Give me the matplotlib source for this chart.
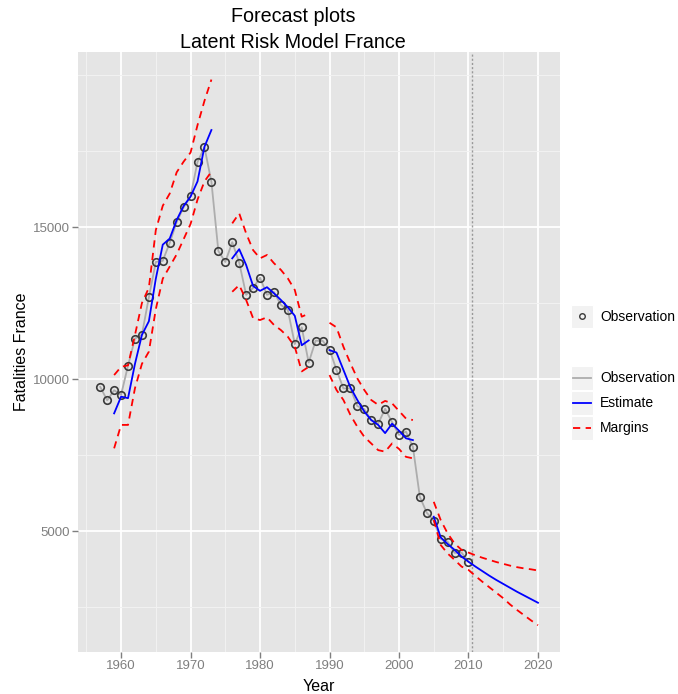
import numpy as np
import matplotlib
matplotlib.use("Agg")
import matplotlib.pyplot as plt
from matplotlib.patches import Rectangle
from matplotlib.lines import Line2D

plt.rcParams["font.family"] = ["Liberation Sans", "DejaVu Sans"]

nan = np.nan

# observed fatalities
obs_years = list(range(1957, 2011))
obs_values = [
    9740, 9300, 9630, 9480, 10440, 11330, 11460, 12690, 13850, 13890,
    14480, 15160, 15650, 16010, 17140, 17620, 16490, 14210, 13850, 14500,
    13830, 12770, 13000, 13330, 12770, 12860, 12440, 12270, 11150, 11700,
    10540, 11260, 11260, 10970, 10300, 9690, 9690, 9110, 9010, 8650,
    8530, 9020, 8580, 8160, 8270, 7770, 6120, 5600, 5340, 4740,
    4650, 4280, 4290, 3980,
]

# model estimate and margins, 1959..2020 (gaps where the model is not shown)
est_years = list(range(1959, 2021))
estimate = [
    8870, 9420, 9370, 10500, 11450, 11900, 13300, 14420, 14620, 15230,
    15690, 16000, 16500, 17640, 18190, nan, nan, 13970, 14270, 13750,
    13060, 12900, 13020, 12820, 12600, 12360, 12080, 11110, 11270, nan,
    nan, 10950, 10870, 10300, 9730, 9310, 8930, 8650, 8490, 8220,
    8530, 8300, 8050, 7990, nan, nan, 5470, 4790, 4570, 4380,
    4160, 3990, 3830, 3680, 3530, 3390, 3260, 3130, 3000, 2880,
    2760, 2640,
]
upper = [
    10130, 10400, 10450, 11450, 12500, 13000, 14900, 15700, 16100, 16800,
    17150, 17450, 18350, 19150, 19850, nan, nan, 15120, 15450, 14790,
    14240, 13970, 14080, 13810, 13590, 13310, 12930, 12050, 12150, nan,
    nan, 11850, 11700, 11060, 10520, 10020, 9640, 9310, 9150, 9280,
    9200, 8950, 8700, 8650, nan, nan, 5960, 5360, 4920, 4590,
    4380, 4290, 4200, 4120, 4050, 3980, 3920, 3860, 3810, 3770,
    3740, 3700,
]
lower = [
    7720, 8490, 8490, 9700, 10500, 10900, 12300, 13300, 13700, 14100,
    14600, 15100, 15900, 16500, 16820, nan, nan, 12870, 13090, 12600,
    12000, 11940, 12030, 11780, 11610, 11390, 11060, 10250, 10400, nan,
    nan, 10130, 9640, 9310, 8820, 8430, 8100, 7880, 7660, 7610,
    7880, 7700, 7440, 7390, nan, nan, 5360, 4540, 4260, 4050,
    3830, 3720, 3520, 3330, 3150, 2970, 2790, 2580, 2400, 2230,
    2060, 1900,
]

forecast_start = 2010.5

W, H = 678, 694


def fx(x):
    return x / W


def fy(y):
    return 1 - y / H


fig = plt.figure(figsize=(W / 100, H / 100), dpi=100)
ax = fig.add_axes([fx(78), fy(652), fx(560 - 78), (652 - 52) / H])

ax.set_facecolor("#E5E5E5")
for s in ax.spines.values():
    s.set_visible(False)

ax.set_xlim(1953.8, 2023.17)
ax.set_ylim(1020, 20757)
ax.set_xticks(range(1960, 2021, 10))
ax.set_xticks(range(1955, 2021, 10), minor=True)
ax.set_yticks([5000, 10000, 15000])
ax.set_yticks([2500, 7500, 12500, 17500, 20000], minor=True)
ax.grid(which="major", color="white", linewidth=1.3)
ax.grid(which="minor", color="#F2F2F2", linewidth=0.7)
ax.set_axisbelow(True)
ax.tick_params(which="major", length=4, width=1, color="#7F7F7F",
               labelcolor="#7F7F7F", labelsize=9.5, pad=2)
ax.tick_params(which="minor", length=0)

ax.plot(obs_years, obs_values, color="#ADADAD", linewidth=1.3, zorder=3)
ax.plot(obs_years, obs_values, linestyle="none", marker="o", markersize=5.4,
        markerfacecolor="none", markeredgecolor="#3A3A3A", markeredgewidth=1.2,
        zorder=4)
ax.plot(est_years, estimate, color="#0000FF", linewidth=1.3, zorder=5)
ax.plot(est_years, upper, color="#FF0000", linewidth=1.3, dashes=(4, 3), zorder=5)
ax.plot(est_years, lower, color="#FF0000", linewidth=1.3, dashes=(4, 3), zorder=5)
ax.axvline(forecast_start, color="#999999", linewidth=1, linestyle=(0, (1.5, 1.5)),
           zorder=2)

ax.set_xlabel("Year", fontsize=11.5, labelpad=5)
ax.set_ylabel("Fatalities France", fontsize=11.5, labelpad=3)

fig.text(fx(293), fy(16), "Forecast plots", ha="center", va="center", fontsize=14.2)
fig.text(fx(293), fy(43), "Latent Risk Model France", ha="center", va="center",
         fontsize=14.2)

# legends drawn by hand, ggplot style
def key_box(y0, y1):
    fig.add_artist(Rectangle((fx(571), fy(y1)), fx(593) - fx(571), fy(y0) - fy(y1),
                             transform=fig.transFigure, facecolor="#F2F2F2",
                             edgecolor="white", linewidth=0.8))


key_box(305, 328)
fig.add_artist(Line2D([fx(582)], [fy(316.5)], transform=fig.transFigure,
                      marker="o", markersize=4, markerfacecolor="none",
                      markeredgecolor="#3A3A3A", markeredgewidth=1.0))
fig.text(fx(600), fy(317), "Observation", va="center", fontsize=10)

entries = [
    ("Observation", dict(color="#ADADAD")),
    ("Estimate", dict(color="#0000FF")),
    ("Margins", dict(color="#FF0000", dashes=(4, 3))),
]
for i, (label, style) in enumerate(entries):
    y0 = 366 + i * 25
    key_box(y0, y0 + 24)
    yc = y0 + 12
    fig.add_artist(Line2D([fx(573), fx(591)], [fy(yc), fy(yc)],
                          transform=fig.transFigure, linewidth=1.3, **style))
    fig.text(fx(600), fy(yc), label, va="center", fontsize=10)

fig.savefig("out.png", dpi=100)
